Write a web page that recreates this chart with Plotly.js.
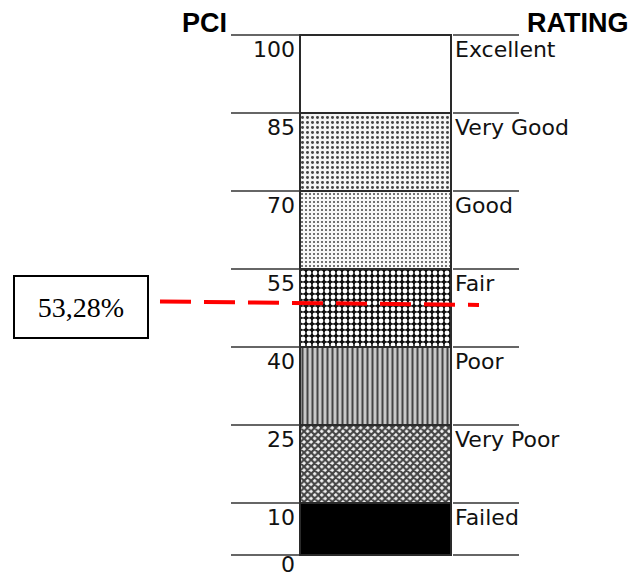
<!DOCTYPE html>
<html>
<head>
<meta charset="utf-8">
<script src="https://cdn.plot.ly/plotly-3.0.1.min.js"></script>
<style>html,body{margin:0;padding:0;background:#fff;}#chart{width:632px;height:572px;}</style>
</head>
<body>
<div id="chart"></div>
<script>
// PCI rating scale
const ratings = ["Excellent", "Very Good", "Good", "Fair", "Poor", "Very Poor", "Failed"];
const upperPCI = [100, 85, 70, 55, 40, 25, 10];
const lowerPCI = [85, 70, 55, 40, 25, 10, 0];
const tickLevels = [100, 85, 70, 55, 40, 25, 10, 0];
const tickLabels = ["100", "85", "70", "55", "40", "25", "10", "0"];
// marked value
const markLabel = "53,28%";
const markLineY = [48.75, 48.1];   // level of the dashed red line as drawn

// styling per band (not data)
const patShape = ["", ".", ".", ".", "|", "x", ""];
const patFg = ["#000000", "#a0a0a0", "#9a9a9a", "#ffffff", "#4a4a4a", "#0a0a0a", "#000000"];
const patBg = ["#ffffff", "#f4f4f4", "#f7f7f7", "#101010", "#c8c8c8", "#f2f2f2", "#000000"];
const patSize = [8, 5, 4, 6, 5, 5, 8];
const patSol = [0.3, 0.28, 0.2, 0.5, 0.4, 0.65, 0.3];

const colX = 375.5, colW = 151;
const leftA = 231, leftB = 300, rightA = 453, rightB = 519;

const lx = [], ly = [];
tickLevels.forEach(v => {
  lx.push(leftA, leftB, null, rightA, rightB, null);
  ly.push(v, v, null, v, v, null);
});

const bars = {
  type: "bar",
  x: ratings.map(() => colX),
  y: upperPCI.map((u, i) => u - lowerPCI[i]),
  base: lowerPCI,
  width: ratings.map(() => colW),
  marker: {
    color: patBg,
    line: {color: "#2a2a2a", width: 2},
    pattern: {shape: patShape, fgcolor: patFg, fgopacity: 1, size: patSize, solidity: patSol, fillmode: "overlay"}
  },
  hoverinfo: "skip",
  showlegend: false
};

const levelLines = {
  type: "scatter", mode: "lines", x: lx, y: ly,
  line: {color: "#333", width: 1.6}, hoverinfo: "skip", showlegend: false, connectgaps: false
};

const redLine = {
  type: "scatter", mode: "lines", x: [160, 479], y: markLineY,
  line: {color: "#ff0000", width: 4, dash: "31px,13px"}, hoverinfo: "skip", showlegend: false
};

const annotations = [];
const numFont = {family: "DejaVu Sans", size: 22, color: "#111"};
tickLevels.forEach((v, i) => {
  annotations.push({x: 297, y: v, xref: "x", yref: "y", text: tickLabels[i], showarrow: false,
    xanchor: "right", yanchor: "top", yshift: v === 0 ? 5 : 0, font: numFont});
});
ratings.forEach((r, i) => {
  annotations.push({x: 453, y: upperPCI[i], xref: "x", yref: "y", text: r, showarrow: false,
    xanchor: "left", yanchor: "top", yshift: 0, font: numFont});
});
annotations.push({x: 180, y: 1 - 22.5 / 572, xref: "x", yref: "paper", text: "<b>PCI</b>", showarrow: false,
  xanchor: "left", yanchor: "middle", font: {family: "Liberation Sans", size: 27, color: "#000"}});
annotations.push({x: 631, y: 1 - 22.5 / 572, xref: "x", yref: "paper", text: "<b>RATING</b>", showarrow: false,
  xanchor: "right", yanchor: "middle", font: {family: "Liberation Sans", size: 27, color: "#000"}});
annotations.push({x: 81, y: 1 - 307 / 572, xref: "x", yref: "paper", text: markLabel, showarrow: false,
  xanchor: "center", yanchor: "middle", width: 132, height: 60, borderpad: 0, borderwidth: 2,
  bordercolor: "#000", bgcolor: "#fff", font: {family: "Liberation Serif", size: 28, color: "#000"}});

const layout = {
  width: 632, height: 572,
  margin: {l: 0, r: 0, t: 0, b: 0},
  paper_bgcolor: "#fff", plot_bgcolor: "#fff",
  barmode: "overlay",
  xaxis: {range: [0, 632], visible: false, fixedrange: true},
  yaxis: {range: [-3.27, 106.73], visible: false, fixedrange: true},
  annotations: annotations,
  showlegend: false
};

Plotly.newPlot("chart", [bars, levelLines, redLine], layout, {staticPlot: true, displayModeBar: false});
</script>
</body>
</html>
